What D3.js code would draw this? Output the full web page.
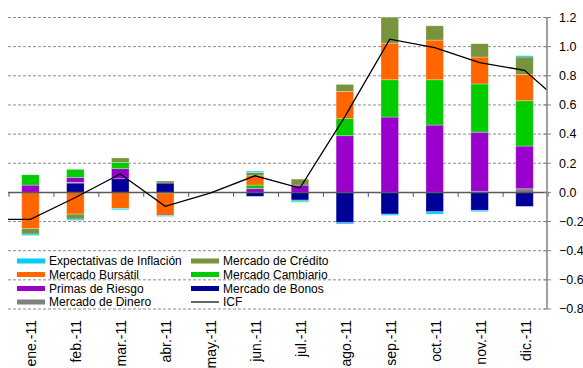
<!DOCTYPE html>
<html>
<head>
<meta charset="utf-8">
<script src="https://cdn.jsdelivr.net/npm/d3@7"></script>
<style>
  html, body { margin: 0; padding: 0; background: #fff; }
  svg { display: block; font-family: "Liberation Sans", Arial, sans-serif; }
</style>
</head>
<body>
<svg id="chart" width="583" height="368"></svg>
<script>
// Months of 2011
const months = ["ene.-11", "feb.-11", "mar.-11", "abr.-11", "may.-11", "jun.-11",
                "jul.-11", "ago.-11", "sep.-11", "oct.-11", "nov.-11", "dic.-11"];

// Contributions by component (stacked from the zero line outward in this order)
const mercadoBonos      = [0, 0.064, 0.094, 0.064, 0, -0.027, -0.053, -0.208, -0.149, -0.133, -0.123, -0.096];
const mercadoDinero     = [0, 0.005, 0, 0, 0, 0, 0, 0, 0, 0, 0.008, 0.025];
const primasRiesgo      = [0.05, 0.034, 0.069, -0.005, 0, 0.027, 0.05, 0.389, 0.517, 0.462, 0.405, 0.293];
const mercadoCambiario  = [0.071, 0.055, 0.043, 0, 0, 0.023, -0.007, 0.117, 0.256, 0.311, 0.331, 0.311];
const mercadoBursatil   = [-0.247, -0.149, -0.11, -0.153, 0, 0.064, 0, 0.187, 0.251, 0.272, 0.185, 0.181];
const mercadoCredito    = [-0.039, -0.034, 0.03, 0.014, 0, 0.023, 0.041, 0.048, 0.178, 0.098, 0.091, 0.119];
const expectativasInfl  = [-0.01, -0.009, -0.009, -0.007, 0, 0.009, -0.007, -0.009, -0.009, -0.016, -0.009, 0.009];

// ICF index, with its values where the line meets the left and right plot edges
const icf = [-0.185, -0.035, 0.126, -0.096, -0.005, 0.114, 0.03, 0.52, 1.051, 0.994, 0.89, 0.838];
const icfEdges = [-0.185, 0.703];

const yTicks = [-0.8, -0.6, -0.4, -0.2, 0, 0.2, 0.4, 0.6, 0.8, 1.0, 1.2];

const series = [
  { key: "Mercado de Bonos",          values: mercadoBonos,     color: "#000099" },
  { key: "Mercado de Dinero",         values: mercadoDinero,    color: "#808080" },
  { key: "Primas de Riesgo",          values: primasRiesgo,     color: "#9900CC" },
  { key: "Mercado Cambiario",         values: mercadoCambiario, color: "#00CC00" },
  { key: "Mercado Bursátil",          values: mercadoBursatil,  color: "#FF6600" },
  { key: "Mercado de Crédito",        values: mercadoCredito,   color: "#77933C" },
  { key: "Expectativas de Inflación", values: expectativasInfl, color: "#00CCFF" }
];

const legendItems = [
  { label: "Expectativas de Inflación", color: "#00CCFF" },
  { label: "Mercado de Crédito",        color: "#77933C" },
  { label: "Mercado Bursátil",          color: "#FF6600" },
  { label: "Mercado Cambiario",         color: "#00CC00" },
  { label: "Primas de Riesgo",          color: "#9900CC" },
  { label: "Mercado de Bonos",          color: "#000099" },
  { label: "Mercado de Dinero",         color: "#808080" },
  { label: "ICF",                       color: "#000000", line: true }
];

const svg = d3.select("#chart");
const plot = { left: 8, right: 547, top: 17.5, bottom: 309 };

const x = d3.scaleBand().domain(months).range([plot.left, plot.right])
  .paddingInner(0.61).paddingOuter(0.305);
const y = d3.scaleLinear().domain([-0.8, 1.2]).range([plot.bottom, plot.top]);

// Gridlines (dashed) except zero
svg.append("g").selectAll("line").data(yTicks.filter(d => d !== 0)).join("line")
  .attr("x1", plot.left).attr("x2", plot.right)
  .attr("y1", d => y(d)).attr("y2", d => y(d))
  .attr("stroke", "#8c8c8c").attr("stroke-width", 1).attr("stroke-dasharray", "3,2");

// Stacked bars
const table = months.map((m, i) => {
  const row = { month: m };
  series.forEach(s => row[s.key] = s.values[i]);
  return row;
});
const stacked = d3.stack().keys(series.map(s => s.key)).offset(d3.stackOffsetDiverging)(table);

svg.append("g").selectAll("g").data(stacked).join("g")
  .attr("fill", (d, i) => series[i].color)
  .selectAll("rect").data(d => d.filter(p => p[1] !== p[0])).join("rect")
  .attr("x", d => x(d.data.month))
  .attr("width", x.bandwidth())
  .attr("y", d => y(Math.max(d[0], d[1])))
  .attr("height", d => Math.abs(y(d[0]) - y(d[1])))
  .attr("stroke", "#ffffff").attr("stroke-opacity", 0.35).attr("stroke-width", 0.8);

// Zero line with category ticks
const axisG = svg.append("g");
axisG.append("line")
  .attr("x1", plot.left).attr("x2", plot.right)
  .attr("y1", y(0)).attr("y2", y(0))
  .attr("stroke", "#5a5a5a").attr("stroke-width", 1.5);
axisG.selectAll("line.tick").data(d3.range(months.length + 1)).join("line")
  .attr("class", "tick")
  .attr("x1", i => plot.left + x.step() * i + 1).attr("x2", i => plot.left + x.step() * i + 1)
  .attr("y1", y(0)).attr("y2", y(0) + 4.5)
  .attr("stroke", "#5a5a5a").attr("stroke-width", 1);

// ICF line
const icfPoints = [[plot.left, icfEdges[0]]]
  .concat(months.map((m, i) => [x(m) + x.bandwidth() / 2, icf[i]]))
  .concat([[plot.right, icfEdges[1]]]);
svg.append("path")
  .attr("d", d3.line().x(d => d[0]).y(d => y(d[1]))(icfPoints))
  .attr("fill", "none").attr("stroke", "#000").attr("stroke-width", 1.3);

// Right value axis
const yAxis = svg.append("g");
yAxis.append("line")
  .attr("x1", plot.right).attr("x2", plot.right)
  .attr("y1", plot.top).attr("y2", plot.bottom)
  .attr("stroke", "#808080").attr("stroke-width", 1.5);
yAxis.selectAll("line.t").data(yTicks).join("line").attr("class", "t")
  .attr("x1", plot.right - 3).attr("x2", plot.right + 4)
  .attr("y1", d => y(d)).attr("y2", d => y(d))
  .attr("stroke", "#808080").attr("stroke-width", 1);
yAxis.selectAll("text").data(yTicks).join("text")
  .attr("x", 559).attr("y", d => y(d)).attr("dy", "0.35em")
  .attr("font-size", 12.5).attr("fill", "#000")
  .text(d => d3.format(".1f")(d));

// Month labels, rotated
svg.append("g").selectAll("text").data(months).join("text")
  .attr("transform", m => `translate(${x(m) + x.bandwidth() / 2 + 6},320) rotate(-90)`)
  .attr("text-anchor", "end").attr("font-size", 14).attr("fill", "#000")
  .text(m => m);

// Legend (two columns)
const legend = svg.append("g");
const colX = [17, 191], rowY = [261, 274.5, 288.5, 302];
legendItems.forEach((it, i) => {
  const cx = colX[i % 2], cy = rowY[Math.floor(i / 2)];
  if (it.line) {
    legend.append("line").attr("x1", cx).attr("x2", cx + 28).attr("y1", cy).attr("y2", cy)
      .attr("stroke", it.color).attr("stroke-width", 1.2);
  } else {
    legend.append("rect").attr("x", cx).attr("y", cy - 2.5).attr("width", 28).attr("height", 5)
      .attr("fill", it.color);
  }
  legend.append("text").attr("x", cx + 32).attr("y", cy).attr("dy", "0.35em")
    .attr("font-size", 12).attr("fill", "#000").text(it.label);
});
</script>
</body>
</html>
